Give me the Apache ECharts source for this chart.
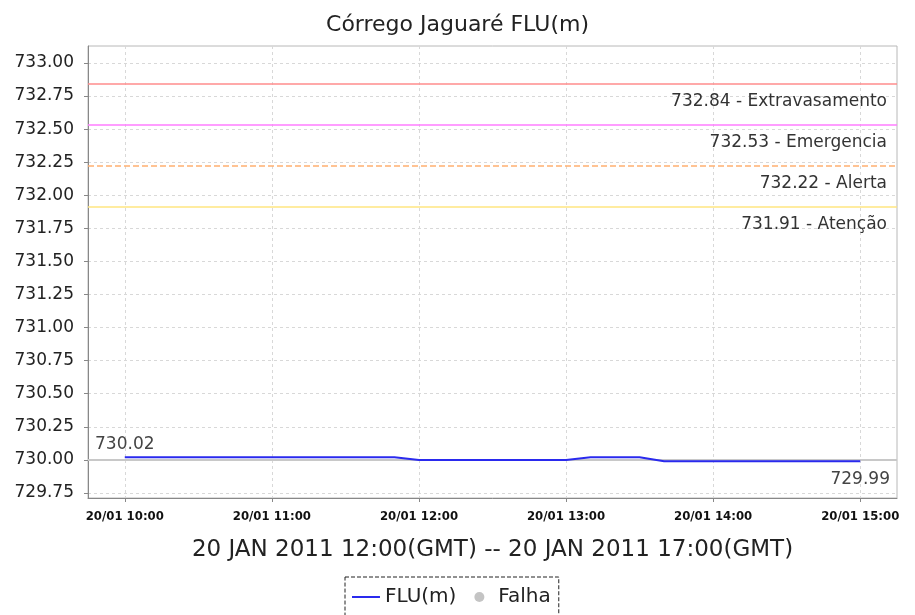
<!DOCTYPE html>
<html lang="pt">
<head>
	<meta charset="UTF-8">
	<title>Córrego Jaguaré FLU(m)</title>
	<style>
		* {
			margin: 0;
			padding: 0;
		}

		#box {
			width: 915px;
			height: 615px;
		}
	</style>
	<script src="https://cdn.jsdelivr.net/npm/echarts@6/dist/echarts.min.js"></script>
</head>
<body>
<div id="box"></div>
<script>
	// leituras a cada 10 minutos (hora local)
	const dia = '2011-01-20 ';
	const horarios = [
		'10:00', '10:10', '10:20', '10:30', '10:40', '10:50',
		'11:00', '11:10', '11:20', '11:30', '11:40', '11:50',
		'12:00', '12:10', '12:20', '12:30', '12:40', '12:50',
		'13:00', '13:10', '13:20', '13:30', '13:40', '13:50',
		'14:00', '14:10', '14:20', '14:30', '14:40', '14:50',
		'15:00'
	];
	const nivel = [
		730.02, 730.02, 730.02, 730.02, 730.02, 730.02,
		730.02, 730.02, 730.02, 730.02, 730.02, 730.02,
		730.00, 730.00, 730.00, 730.00, 730.00, 730.00,
		730.00, 730.02, 730.02, 730.02, 729.99, 729.99,
		729.99, 729.99, 729.99, 729.99, 729.99, 729.99,
		729.99
	];
	// cotas de referência
	const cotas = [732.84, 732.53, 732.22, 731.91];
	const cotasNomes = ['Extravasamento', 'Emergencia', 'Alerta', 'Atenção'];
	const cotasCores = ['#ff8c8c', '#ff7cff', '#ffb070', '#ffe680'];
	const cotasTipo = ['solid', 'solid', 'dashed', 'solid'];
	const falhaNivel = 730.00;
	// marcas dos eixos
	const yTicks = [729.75, 730.00, 730.25, 730.50, 730.75, 731.00, 731.25, 731.50,
		731.75, 732.00, 732.25, 732.50, 732.75, 733.00];
	const xTicks = ['10:00', '11:00', '12:00', '13:00', '14:00', '15:00'];
	const xMin = '09:45', xMax = '15:15';
	const yMin = 729.712, yMax = 733.128;

	const t = s => new Date((dia + s).replace(' ', 'T')).getTime();
	const pad = n => (n < 10 ? '0' : '') + n;

	const pontos = horarios.map((h, i) => [t(h), nivel[i]]);
	const ultimo = horarios.length - 1;

	const linhasCotas = cotas.map((v, i) => ({
		yAxis: v,
		lineStyle: {color: cotasCores[i], type: cotasTipo[i], width: 1.5},
		label: {formatter: v.toFixed(2) + ' - ' + cotasNomes[i]}
	}));

	// ícone de linha fina para a legenda
	const iconeLinha = 'path://M0,0 L28,0 L28,0.01 L0,0.01 Z M0,4 L28,4 L28,6 L0,6 Z M0,10 L28,10 L28,10.01 L0,10.01 Z';

	const myEcharts = echarts.init(document.getElementById('box'));
	myEcharts.setOption({
		animation: false,
		textStyle: {fontFamily: 'DejaVu Sans'},
		title: {
			text: 'Córrego Jaguaré FLU(m)',
			left: 'center',
			top: 9,
			textStyle: {fontSize: 22, fontWeight: 'normal', color: '#222'}
		},
		legend: {
			top: 577,
			left: 345,
			data: [{name: 'FLU(m)', icon: iconeLinha}, {name: 'Falha', icon: 'circle'}],
			itemWidth: 28,
			itemHeight: 10,
			itemGap: 18,
			padding: [10, 8, 10, 7],
			borderColor: '#222',
			borderWidth: 1,
			borderType: 'dashed',
			borderRadius: 0,
			textStyle: {fontSize: 20, color: '#222'}
		},
		grid: {
			left: 88,
			right: 18,
			top: 46,
			bottom: 117,
			show: true,
			borderColor: '#b8b8b8',
			borderWidth: 1
		},
		xAxis: {
			type: 'value',
			min: t(xMin),
			max: t(xMax),
			name: '20 JAN 2011 12:00(GMT) -- 20 JAN 2011 17:00(GMT)',
			nameLocation: 'middle',
			nameGap: 41,
			nameTextStyle: {fontSize: 23, color: '#222'},
			axisLine: {lineStyle: {color: '#888'}},
			axisTick: {show: true, length: 4, customValues: xTicks.map(t), lineStyle: {color: '#888'}},
			axisLabel: {
				customValues: xTicks.map(t),
				color: '#111',
				fontFamily: 'DejaVu Sans Condensed',
				fontWeight: 'bold',
				fontSize: 13,
				margin: 12,
				hideOverlap: false,
				formatter: v => {
					const d = new Date(v);
					return pad(d.getDate()) + '/' + pad(d.getMonth() + 1) + ' ' + pad(d.getHours()) + ':' + pad(d.getMinutes());
				}
			},
			splitLine: {show: true, lineStyle: {color: '#d8d8d8', type: [3, 3]}}
		},
		yAxis: {
			type: 'value',
			min: yMin,
			max: yMax,
			axisLine: {show: true, lineStyle: {color: '#888'}},
			axisTick: {show: true, length: 4, customValues: yTicks, lineStyle: {color: '#888'}},
			axisLabel: {
				customValues: yTicks,
				color: '#222',
				fontSize: 17,
				margin: 14,
				formatter: v => v.toFixed(2)
			},
			splitLine: {show: true, lineStyle: {color: '#d8d8d8', type: [3, 3]}}
		},
		series: [
			{
				name: 'Falha',
				type: 'line',
				data: [],
				itemStyle: {color: '#c4c4c4'},
				markLine: {
					z: 1,
					silent: true,
					symbol: 'none',
					lineStyle: {color: '#c8c8c8', type: 'solid', width: 2},
					label: {show: false},
					data: [{yAxis: falhaNivel}]
				}
			},
			{
				name: 'cotas',
				type: 'line',
				data: [],
				markLine: {
					z: 1,
					silent: true,
					symbol: 'none',
					label: {
						position: 'insideEndBottom',
						distance: [10, 9],
						color: '#333',
						fontSize: 17
					},
					data: linhasCotas
				}
			},
			{
				name: 'FLU(m)',
				type: 'line',
				data: pontos,
				symbol: 'none',
				z: 3,
				lineStyle: {color: '#2a2aee', width: 2},
				itemStyle: {color: '#2a2aee'},
				markPoint: {
					z: 4,
					symbol: 'circle',
					symbolSize: 0,
					silent: true,
					label: {show: true, color: '#444', fontSize: 17, formatter: p => p.value.toFixed(2)},
					data: [
						{coord: pontos[0], value: nivel[0], label: {position: 'top', distance: 4}},
						{coord: pontos[ultimo], value: nivel[ultimo], label: {position: 'bottom', distance: 10}}
					]
				}
			}
		]
	});
</script>
</body>
</html>
